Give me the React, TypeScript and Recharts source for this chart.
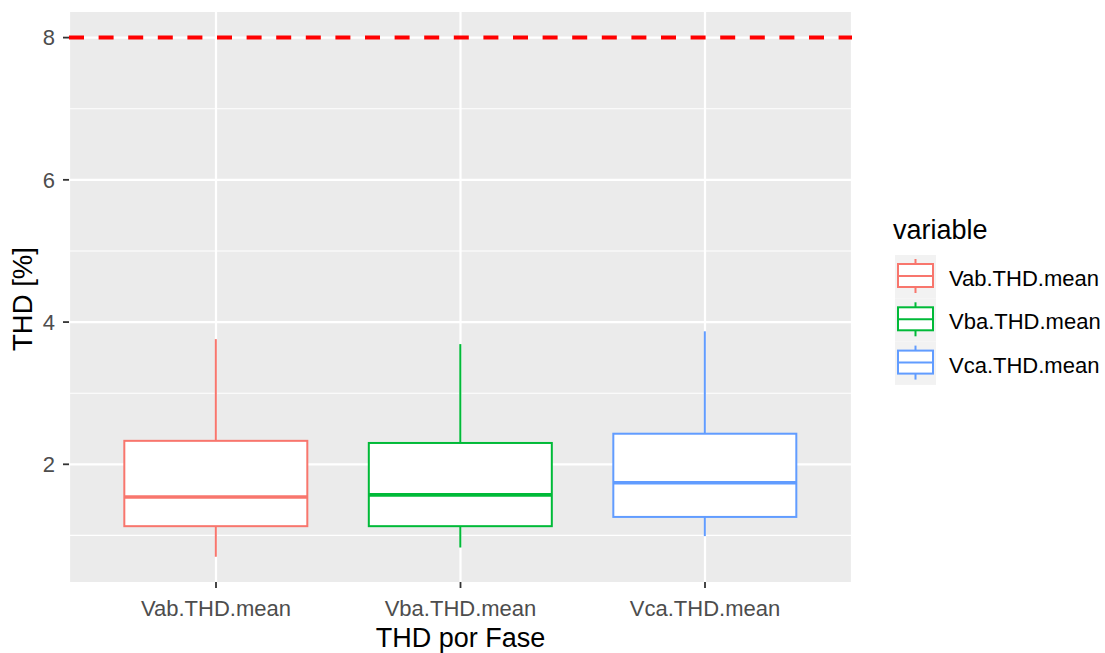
import React from 'react';
import {
  ComposedChart,
  Bar,
  XAxis,
  YAxis,
  CartesianGrid,
  ReferenceLine,
  Legend,
  Label,
} from 'recharts';

// Five-number summaries of the THD mean per phase
const categories = ['Vab.THD.mean', 'Vba.THD.mean', 'Vca.THD.mean'];
const lowerWhisker = [0.7, 0.83, 0.99];
const q1Values = [1.13, 1.13, 1.26];
const medianValues = [1.54, 1.57, 1.74];
const q3Values = [2.33, 2.3, 2.43];
const upperWhisker = [3.76, 3.69, 3.87];

const yTicks = [2, 4, 6, 8];
const minorBreaks = [1, 3, 5, 7];
const thdLimit = 8;

const seriesColors = ['#F8766D', '#00BA38', '#619CFF'];
const FONT = '"Liberation Sans", Arial, sans-serif';

const data = categories.map((name, i) => ({
  name,
  span: [lowerWhisker[i], upperWhisker[i]],
  min: lowerWhisker[i],
  q1: q1Values[i],
  median: medianValues[i],
  q3: q3Values[i],
  max: upperWhisker[i],
}));

// Draws one box-and-whisker from the range bar's pixel extent
const BoxShape = (props: any) => {
  const { x, y, width, height, payload, index } = props;
  const { min, q1, median, q3, max } = payload;
  const h = Math.abs(height);
  const top = height >= 0 ? y : y + height;
  const k = h / (max - min);
  const py = (v: number) => top + (max - v) * k;
  const cx = x + width / 2;
  const color = seriesColors[index % seriesColors.length];
  return (
    <g>
      <line x1={cx} x2={cx} y1={py(max)} y2={py(q3)} stroke={color} strokeWidth={2} />
      <line x1={cx} x2={cx} y1={py(q1)} y2={py(min)} stroke={color} strokeWidth={2} />
      <rect
        x={x}
        y={py(q3)}
        width={width}
        height={py(q1) - py(q3)}
        fill="#FFFFFF"
        stroke={color}
        strokeWidth={2}
      />
      <line
        x1={x}
        x2={x + width}
        y1={py(median)}
        y2={py(median)}
        stroke={color}
        strokeWidth={3.6}
      />
    </g>
  );
};

const LegendBox = () => {
  const rowH = 43.3;
  const top0 = 45;
  return (
    <svg width={215} height={185} style={{ display: 'block', fontFamily: FONT }}>
      <text x={3} y={29} fontSize={27} fill="#000000">
        variable
      </text>
      {categories.map((name, i) => {
        const ry = top0 + i * rowH;
        const color = seriesColors[i];
        return (
          <g key={name}>
            <rect x={5} y={ry} width={41} height={rowH} fill="#F2F2F2" />
            <line x1={25.5} x2={25.5} y1={ry + 4} y2={ry + 9} stroke={color} strokeWidth={2} />
            <line x1={25.5} x2={25.5} y1={ry + 32} y2={ry + 38} stroke={color} strokeWidth={2} />
            <rect x={8} y={ry + 9} width={35} height={23} fill="#FFFFFF" stroke={color} strokeWidth={2} />
            <line x1={8} x2={43} y1={ry + 21} y2={ry + 21} stroke={color} strokeWidth={2} />
            <text x={59} y={ry + 31} fontSize={22} fill="#000000">
              {name}
            </text>
          </g>
        );
      })}
    </svg>
  );
};

export default function App() {
  return (
    <div
      style={{
        position: 'absolute',
        left: 0,
        top: 0,
        width: 1105,
        height: 653,
        background: '#FFFFFF',
        fontFamily: FONT,
      }}
    >
      <ComposedChart
        width={1105}
        height={653}
        data={data}
        margin={{ top: 12, right: 253, bottom: 0, left: 0 }}
        barCategoryGap="12.5%"
      >
        <CartesianGrid
          fill="#EBEBEB"
          vertical={false}
          horizontalValues={minorBreaks}
          stroke="#FFFFFF"
          strokeWidth={1.1}
        />
        <CartesianGrid
          horizontalValues={yTicks}
          stroke="#FFFFFF"
          strokeWidth={2.2}
        />
        <XAxis
          dataKey="name"
          type="category"
          height={71}
          padding={{ left: 24.75, right: 24.75 }}
          axisLine={false}
          tickLine={{ stroke: '#333333', strokeWidth: 1.8 }}
          tickSize={6}
          tickMargin={12}
          interval={0}
          tick={{ fill: '#4D4D4D', fontSize: 22, fontFamily: FONT }}
        >
          <Label
            content={(p: any) => {
              const vb = p.viewBox;
              return (
                <text
                  x={vb.x + vb.width / 2}
                  y={vb.y + 64.5}
                  textAnchor="middle"
                  fontSize={27}
                  fill="#000000"
                  fontFamily={FONT}
                >
                  THD por Fase
                </text>
              );
            }}
          />
        </XAxis>
        <YAxis
          type="number"
          width={69}
          domain={[0.345, 8.36]}
          ticks={yTicks}
          allowDataOverflow
          axisLine={false}
          tickLine={{ stroke: '#333333', strokeWidth: 1.8 }}
          tickSize={6}
          tickMargin={8}
          tick={{ fill: '#4D4D4D', fontSize: 22, fontFamily: FONT }}
        >
          <Label
            content={(p: any) => {
              const vb = p.viewBox;
              const lx = vb.x + 31.5;
              const ly = vb.y + vb.height / 2 + 2;
              return (
                <text
                  x={lx}
                  y={ly}
                  transform={`rotate(-90, ${lx}, ${ly})`}
                  textAnchor="middle"
                  fontSize={27.5}
                  fill="#000000"
                  fontFamily={FONT}
                >
                  THD [%]
                </text>
              );
            }}
          />
        </YAxis>
        <Bar dataKey="span" shape={<BoxShape />} isAnimationActive={false} />
        <ReferenceLine
          y={thdLimit}
          stroke="#FF0000"
          strokeWidth={4}
          strokeDasharray="15 14.6"
        />
        <Legend
          layout="horizontal"
          align="center"
          verticalAlign="middle"
          content={() => <LegendBox />}
          wrapperStyle={{ left: 890, top: 210, width: 215, height: 185 }}
        />
      </ComposedChart>
    </div>
  );
}
